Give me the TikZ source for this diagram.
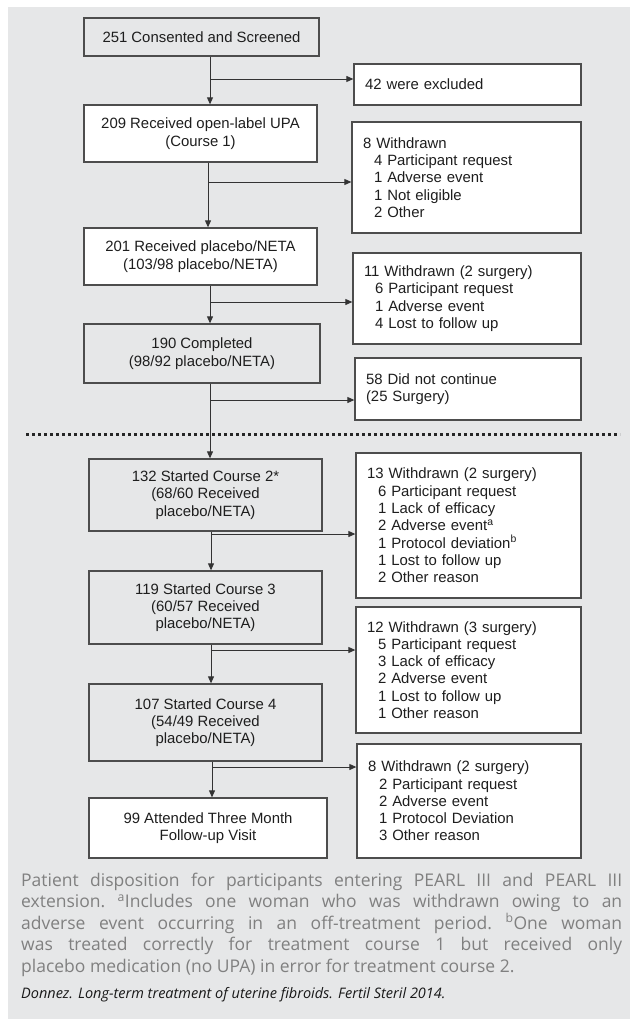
\documentclass[tikz,border=0pt]{standalone}
\usepackage{fontspec}
\setmainfont{Liberation Sans}
\newfontfamily\capfont{Open Sans}
\usetikzlibrary{arrows.meta}
\definecolor{bg}{HTML}{E6E7E8}
\definecolor{boxline}{HTML}{4D4D4D}
\definecolor{txt}{HTML}{1E1E1E}
\definecolor{arrc}{HTML}{333333}
\definecolor{captxt}{HTML}{808080}
\begin{document}
\begin{tikzpicture}[x=1pt,y=-1pt,
  box/.style={draw=boxline, line width=1.3pt, rectangle, inner sep=0pt, text=txt,
    font=\fontsize{14.9}{17.3}\selectfont, align=center},
  gbox/.style={box, fill=bg},
  wbox/.style={box, fill=white},
  rbox/.style={box, fill=white, align=left, inner xsep=11pt},
  arr/.style={draw=arrc, line width=0.9pt, -{Triangle[length=7pt,width=6pt]}},
  dotline/.style={draw=black!85, line width=3pt, dash pattern=on 3pt off 3pt},
  captext/.style={inner sep=0pt, text=captxt},
  srctext/.style={inner sep=0pt, text=black!90,
    font=\capfont\itshape\fontsize{14.5}{17}\selectfont},
]
\useasboundingbox (0,0) rectangle (630,1019);
\fill[white] (0,0) rectangle (630,1019);
\fill[bg] (8,7) rectangle (630,1019);

% left column
\node[gbox, minimum width=235pt, minimum height=38pt] (b1) at (201.5,37) {251 Consented and Screened};
\node[wbox, minimum width=233pt, minimum height=57pt] (b2) at (200.5,133.5) {209 Received open-label UPA\\(Course 1)};
\node[wbox, minimum width=233pt, minimum height=57pt] (b3) at (200.5,256.5) {201 Received placebo/NETA\\(103/98 placebo/NETA)};
\node[gbox, minimum width=236pt, minimum height=59pt] (b4) at (202,353.5) {190 Completed\\(98/92 placebo/NETA)};
\node[gbox, minimum width=233pt, minimum height=72pt] (b5) at (205.5,495) {132 Started Course 2*\\(68/60 Received\\placebo/NETA)};
\node[gbox, minimum width=233pt, minimum height=73pt] (b6) at (205.5,607.5) {119 Started Course 3\\(60/57 Received\\placebo/NETA)};
\node[gbox, minimum width=233pt, minimum height=77pt] (b7) at (205.5,722.5) {107 Started Course 4\\(54/49 Received\\placebo/NETA)};
\node[wbox, minimum width=238pt, minimum height=60pt] (b8) at (208,828) {99 Attended Three Month\\Follow-up Visit};

% right column
\node[rbox, text width=205pt, minimum height=41pt] (r1) at (467.5,84.5) {42 were excluded};
\node[rbox, text width=207pt, minimum height=111pt] (r2) at (466.5,177.5) {8 Withdrawn\\\hspace*{11pt}4 Participant request\\\hspace*{11pt}1 Adverse event\\\hspace*{11pt}1 Not eligible\\\hspace*{11pt}2 Other};
\node[rbox, text width=206pt, minimum height=91pt] (r3) at (467,298.5) {11 Withdrawn (2 surgery)\\\hspace*{11pt}6 Participant request\\\hspace*{11pt}1 Adverse event\\\hspace*{11pt}4 Lost to follow up};
\node[rbox, text width=204pt, minimum height=62pt] (r4) at (468,389) {58 Did not continue\\(25 Surgery)};
\node[rbox, text width=203pt, minimum height=145pt] (r5) at (468.5,525.5) {13 Withdrawn (2 surgery)\\\hspace*{11pt}6 Participant request\\\hspace*{11pt}1 Lack of efficacy\\\hspace*{11pt}2 Adverse event\textsuperscript{a}\\\hspace*{11pt}1 Protocol deviation\textsuperscript{b}\\\hspace*{11pt}1 Lost to follow up\\\hspace*{11pt}2 Other reason};
\node[rbox, text width=203pt, minimum height=126pt] (r6) at (468.5,670) {12 Withdrawn (3 surgery)\\\hspace*{11pt}5 Participant request\\\hspace*{11pt}3 Lack of efficacy\\\hspace*{11pt}2 Adverse event\\\hspace*{11pt}1 Lost to follow up\\\hspace*{11pt}1 Other reason};
\node[rbox, text width=202pt, minimum height=114pt] (r7) at (469,801) {8 Withdrawn (2 surgery)\\\hspace*{11pt}2 Participant request\\\hspace*{11pt}2 Adverse event\\\hspace*{11pt}1 Protocol Deviation\\\hspace*{11pt}3 Other reason};

% junctions
\coordinate (j1) at (210,79);
\coordinate (j2) at (208,182);
\coordinate (j3) at (210,302);
\coordinate (j4) at (210,400);
\coordinate (j5) at (211,534);
\coordinate (j6) at (211,650);
\coordinate (j7) at (212,767);

\draw[arr] (b1.south -| j1) -- (b2.north -| j1);
\draw[arr] (j1) -- (j1 -| r1.west);
\draw[arr] (b2.south -| j2) -- (b3.north -| j2);
\draw[arr] (j2) -- (j2 -| r2.west);
\draw[arr] (b3.south -| j3) -- (b4.north -| j3);
\draw[arr] (j3) -- (j3 -| r3.west);
\draw[arr] (b4.south -| j4) -- (b5.north -| j4);
\draw[arr] (j4) -- (j4 -| r4.west);
\draw[arr] (b5.south -| j5) -- (b6.north -| j5);
\draw[arr] (j5) -- (j5 -| r5.west);
\draw[arr] (b6.south -| j6) -- (b7.north -| j6);
\draw[arr] (j6) -- (j6 -| r6.west);
\draw[arr] (b7.south -| j7) -- (b8.north -| j7);
\draw[arr] (j7) -- (j7 -| r7.west);

% dotted separator
\coordinate (d1) at (26,434);
\coordinate (d2) at (620,434);
\draw[dotline] (d1) -- (d2);

% caption
\node[captext, anchor=base west] (cap) at (21,886) {\parbox[t]{601pt}{\capfont\fontsize{17.5}{21.5}\selectfont\frenchspacing
\makebox[601pt][s]{Patient disposition for participants entering PEARL III and PEARL III}\\
\makebox[601pt][s]{extension. \textsuperscript{a}Includes one woman who was withdrawn owing to an}\\
\makebox[601pt][s]{adverse event occurring in an off-treatment period. \textsuperscript{b}One woman}\\
\makebox[601pt][s]{was treated correctly for treatment course 1 but received only}\\
\makebox[601pt][l]{placebo medication (no UPA) in error for treatment course 2.}}};
\node[srctext, anchor=base west] (src) at (21,998) {Donnez. Long-term treatment of uterine fibroids. Fertil Steril 2014.};
\end{tikzpicture}
\end{document}
